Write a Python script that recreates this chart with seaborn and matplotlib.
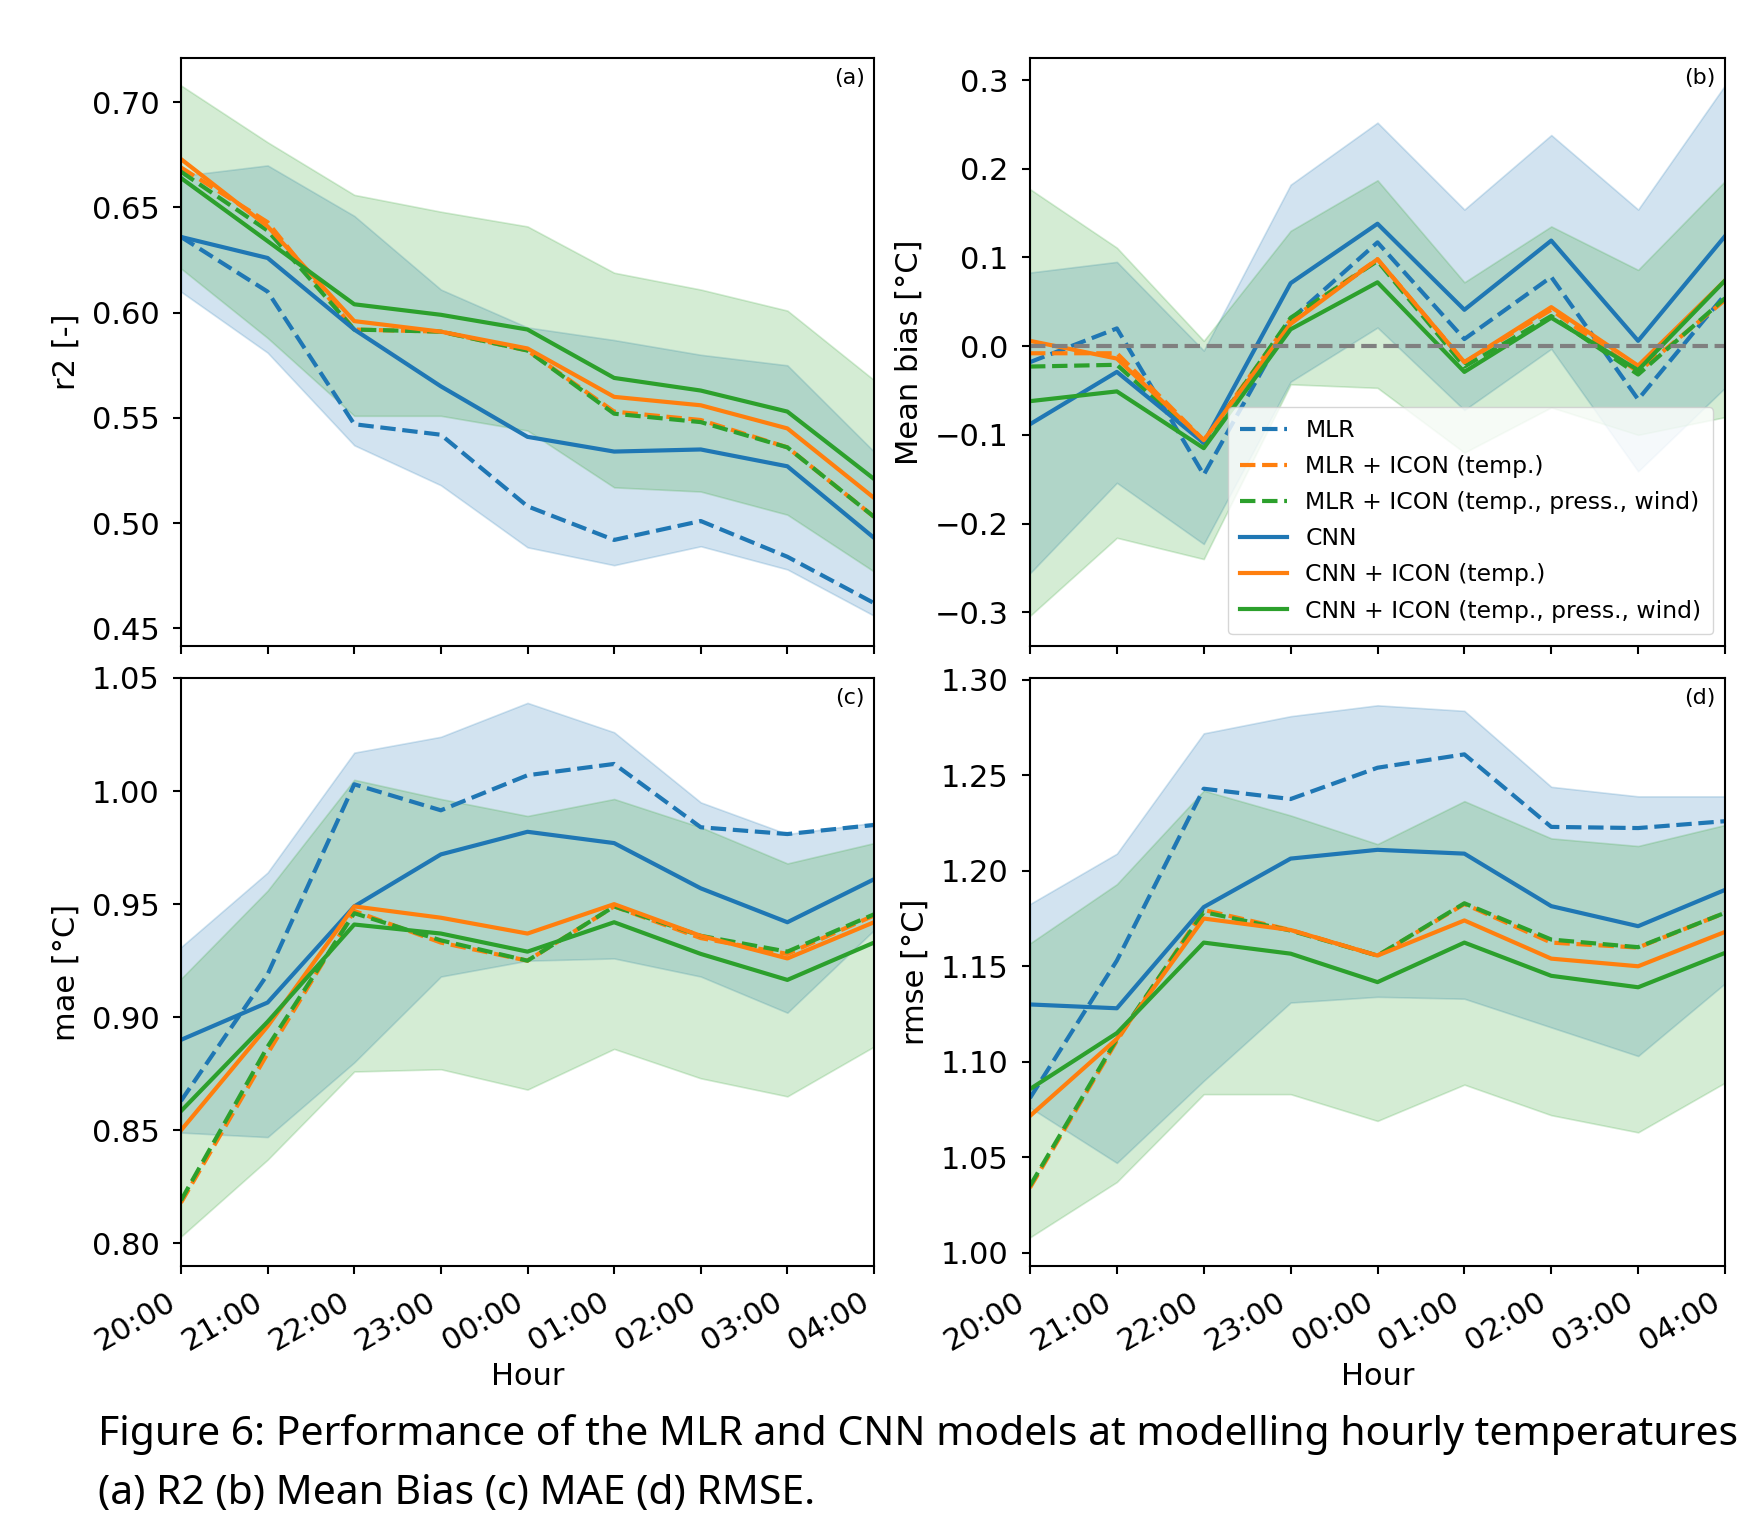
import matplotlib
matplotlib.use("Agg")
import matplotlib.pyplot as plt
import seaborn as sns
import pandas as pd

# ---------------- data ----------------
hours = ["20:00", "21:00", "22:00", "23:00", "00:00", "01:00", "02:00", "03:00", "04:00"]
series_names = ["MLR", "MLR + ICON (temp.)", "MLR + ICON (temp., press., wind)",
                "CNN", "CNN + ICON (temp.)", "CNN + ICON (temp., press., wind)"]

# (a) R2
r2_mlr = [0.636, 0.610, 0.547, 0.542, 0.508, 0.492, 0.501, 0.484, 0.462]
r2_mlr_t = [0.669, 0.643, 0.592, 0.591, 0.582, 0.553, 0.549, 0.536, 0.503]
r2_mlr_f = [0.667, 0.639, 0.592, 0.591, 0.582, 0.552, 0.548, 0.536, 0.503]
r2_cnn = [0.636, 0.626, 0.592, 0.565, 0.541, 0.534, 0.535, 0.527, 0.493]
r2_cnn_t = [0.673, 0.641, 0.596, 0.591, 0.583, 0.560, 0.556, 0.545, 0.512]
r2_cnn_f = [0.664, 0.634, 0.604, 0.599, 0.592, 0.569, 0.563, 0.553, 0.521]
r2_blue_hi = [0.665, 0.670, 0.646, 0.611, 0.593, 0.587, 0.580, 0.575, 0.534]
r2_blue_lo = [0.610, 0.581, 0.537, 0.518, 0.4885, 0.480, 0.489, 0.478, 0.456]
r2_green_hi = [0.708, 0.681, 0.656, 0.648, 0.641, 0.619, 0.611, 0.601, 0.568]
r2_green_lo = [0.621, 0.588, 0.551, 0.551, 0.544, 0.517, 0.515, 0.504, 0.477]

# (b) Mean bias
mb_mlr = [-0.018, 0.020, -0.145, 0.030, 0.117, 0.008, 0.078, -0.060, 0.058]
mb_mlr_t = [-0.008, -0.008, -0.106, 0.030, 0.098, -0.018, 0.041, -0.029, 0.052]
mb_mlr_f = [-0.023, -0.021, -0.109, 0.032, 0.096, -0.023, 0.034, -0.032, 0.054]
mb_cnn = [-0.088, -0.029, -0.109, 0.071, 0.138, 0.041, 0.119, 0.006, 0.124]
mb_cnn_t = [0.006, -0.014, -0.106, 0.025, 0.098, -0.018, 0.044, -0.022, 0.074]
mb_cnn_f = [-0.062, -0.051, -0.115, 0.019, 0.072, -0.029, 0.032, -0.027, 0.074]
mb_blue_hi = [0.083, 0.095, -0.005, 0.182, 0.252, 0.154, 0.238, 0.154, 0.294]
mb_blue_lo = [-0.256, -0.154, -0.223, -0.040, 0.021, -0.072, -0.003, -0.141, -0.047]
mb_green_hi = [0.177, 0.111, 0.006, 0.130, 0.187, 0.072, 0.135, 0.086, 0.186]
mb_green_lo = [-0.304, -0.216, -0.240, -0.043, -0.047, -0.120, -0.069, -0.100, -0.080]

# (c) MAE
mae_mlr = [0.863, 0.919, 1.003, 0.9915, 1.007, 1.012, 0.984, 0.981, 0.985]
mae_mlr_t = [0.818, 0.884, 0.947, 0.933, 0.925, 0.949, 0.935, 0.928, 0.945]
mae_mlr_f = [0.819, 0.887, 0.946, 0.934, 0.925, 0.949, 0.936, 0.929, 0.9455]
mae_cnn = [0.890, 0.9065, 0.949, 0.972, 0.982, 0.977, 0.957, 0.942, 0.961]
mae_cnn_t = [0.850, 0.896, 0.949, 0.944, 0.937, 0.950, 0.936, 0.926, 0.942]
mae_cnn_f = [0.8585, 0.898, 0.941, 0.937, 0.929, 0.942, 0.928, 0.9165, 0.933]
mae_blue_hi = [0.931, 0.964, 1.017, 1.024, 1.039, 1.026, 0.995, 0.981, 0.986]
mae_blue_lo = [0.849, 0.847, 0.880, 0.918, 0.925, 0.926, 0.918, 0.902, 0.9385]
mae_green_hi = [0.917, 0.956, 1.005, 0.9965, 0.989, 0.9965, 0.984, 0.968, 0.977]
mae_green_lo = [0.803, 0.837, 0.876, 0.877, 0.868, 0.886, 0.873, 0.865, 0.887]

# (d) RMSE
rmse_mlr = [1.081, 1.153, 1.243, 1.2376, 1.254, 1.261, 1.223, 1.2224, 1.226]
rmse_mlr_t = [1.034, 1.111, 1.1795, 1.169, 1.1556, 1.1826, 1.1624, 1.1598, 1.178]
rmse_mlr_f = [1.035, 1.112, 1.1784, 1.1687, 1.1556, 1.183, 1.164, 1.160, 1.178]
rmse_cnn = [1.130, 1.128, 1.181, 1.2064, 1.211, 1.209, 1.1815, 1.171, 1.190]
rmse_cnn_t = [1.0716, 1.112, 1.175, 1.169, 1.1556, 1.174, 1.154, 1.150, 1.168]
rmse_cnn_f = [1.0857, 1.115, 1.1624, 1.1566, 1.1417, 1.1624, 1.145, 1.139, 1.157]
rmse_blue_hi = [1.1826, 1.209, 1.272, 1.281, 1.2867, 1.2838, 1.244, 1.239, 1.239]
rmse_blue_lo = [1.076, 1.047, 1.090, 1.131, 1.134, 1.133, 1.118, 1.103, 1.141]
rmse_green_hi = [1.162, 1.193, 1.242, 1.229, 1.214, 1.2365, 1.217, 1.213, 1.224]
rmse_green_lo = [1.008, 1.037, 1.083, 1.083, 1.069, 1.088, 1.072, 1.063, 1.089]

ylabels = ["r2 [-]", "Mean bias [°C]", "mae [°C]", "rmse [°C]"]
panel_tags = ["(a)", "(b)", "(c)", "(d)"]
caption_lines = ["Figure 6: Performance of the MLR and CNN models at modelling hourly temperatures",
                 "(a) R2 (b) Mean Bias (c) MAE (d) RMSE."]

# ---------------- style ----------------
plt.rcParams["font.family"] = ["DejaVu Sans"]
blue, orange, green = "#1f77b4", "#ff7f0e", "#2ca02c"
colors = [blue, orange, green, blue, orange, green]
styles = ["--", "--", "--", "-", "-", "-"]
LW = 3.0

W, H = 1751, 1527
fig = plt.figure(figsize=(W / 100, H / 100), dpi=100)

def pos(left, top, right, bottom):
    return [left / W, 1 - bottom / H, (right - left) / W, (bottom - top) / H]

axes = [
    fig.add_axes(pos(181, 58.3, 874, 646)),
    fig.add_axes(pos(1030, 58.3, 1725, 646)),
    fig.add_axes(pos(181, 678, 874, 1266)),
    fig.add_axes(pos(1030, 678, 1725, 1266)),
]

panels = [
    ([r2_mlr, r2_mlr_t, r2_mlr_f, r2_cnn, r2_cnn_t, r2_cnn_f],
     (r2_blue_lo, r2_blue_hi), (r2_green_lo, r2_green_hi), (0.4416, 0.7209), [0.45, 0.50, 0.55, 0.60, 0.65, 0.70]),
    ([mb_mlr, mb_mlr_t, mb_mlr_f, mb_cnn, mb_cnn_t, mb_cnn_f],
     (mb_blue_lo, mb_blue_hi), (mb_green_lo, mb_green_hi), (-0.338, 0.3245), [-0.3, -0.2, -0.1, 0.0, 0.1, 0.2, 0.3]),
    ([mae_mlr, mae_mlr_t, mae_mlr_f, mae_cnn, mae_cnn_t, mae_cnn_f],
     (mae_blue_lo, mae_blue_hi), (mae_green_lo, mae_green_hi), (0.790, 1.050), [0.80, 0.85, 0.90, 0.95, 1.00, 1.05]),
    ([rmse_mlr, rmse_mlr_t, rmse_mlr_f, rmse_cnn, rmse_cnn_t, rmse_cnn_f],
     (rmse_blue_lo, rmse_blue_hi), (rmse_green_lo, rmse_green_hi), (0.993, 1.301), [1.00, 1.05, 1.10, 1.15, 1.20, 1.25, 1.30]),
]

for i, (ax, (lines, bband, gband, ylim, yt)) in enumerate(zip(axes, panels)):
    ax.fill_between(hours, bband[0], bband[1], color=blue, alpha=0.2, linewidth=1.2)
    ax.fill_between(hours, gband[0], gband[1], color=green, alpha=0.2, linewidth=1.2)
    for name, vals, c, ls in zip(series_names, lines, colors, styles):
        df = pd.DataFrame({"Hour": hours, "value": vals})
        sns.lineplot(data=df, x="Hour", y="value", ax=ax, color=c, linestyle=ls,
                     linewidth=LW, label=name, legend=False, sort=False)
    if i == 1:
        ax.axhline(0, color="gray", linestyle="--", linewidth=LW)
        handles = [l for l in ax.get_lines() if l.get_label() in series_names]
        ax.legend(handles=handles, labels=series_names, loc="lower right", fontsize=16.9,
                  labelspacing=0.56, borderpad=0.5)
    ax.set_xlim(0, len(hours) - 1)
    ax.set_ylim(*ylim)
    ax.set_yticks(yt)
    ax.set_ylabel(ylabels[i], fontsize=22, labelpad=8)
    ax.tick_params(axis="both", labelsize=22, length=6, width=1.5, pad=9.5)
    for sp in ax.spines.values():
        sp.set_linewidth(1.5)
    ax.text(0.987, 0.983, panel_tags[i], transform=ax.transAxes, ha="right", va="top", fontsize=16)
    if i < 2:
        ax.set_xlabel("")
        ax.tick_params(axis="x", labelbottom=False)
    else:
        ax.set_xlabel("Hour", fontsize=22)
        for lab in ax.get_xticklabels():
            lab.set_rotation(30)
            lab.set_ha("right")

# caption
cap_font = ["Noto Sans", "DejaVu Sans"]
t1 = fig.text(98 / W, 1 - 1445 / H, caption_lines[0], fontsize=30, family=cap_font, va="baseline", ha="left")
t2 = fig.text(98 / W, 1 - 1504 / H, caption_lines[1], fontsize=30, family=cap_font, va="baseline", ha="left")
fig.canvas.draw()
r = fig.canvas.get_renderer()
w1 = t1.get_window_extent(r).width
fs = 30 * 1636 / w1
t1.set_fontsize(fs)
t2.set_fontsize(fs)

fig.savefig("out.png", dpi=100)
